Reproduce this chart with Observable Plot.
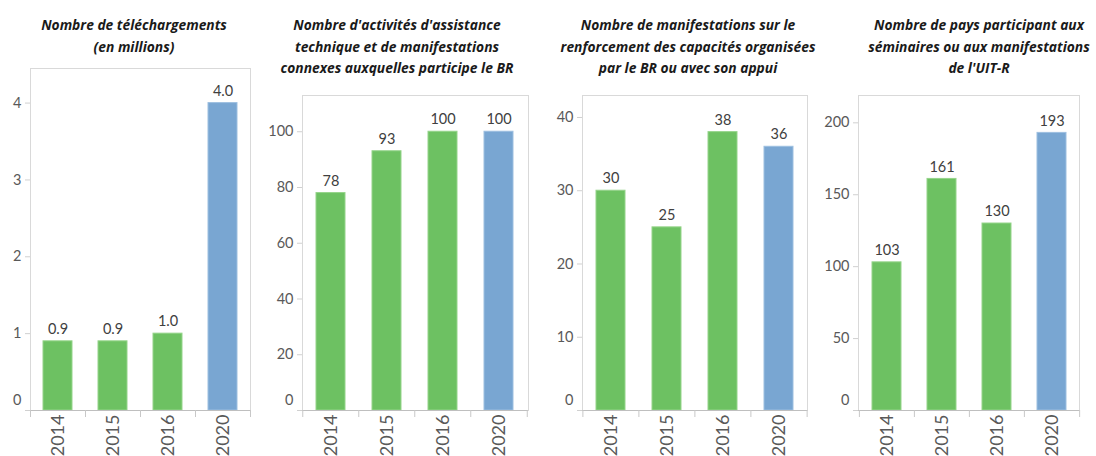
<!DOCTYPE html>
<html>
<head>
<meta charset="utf-8">
<script src="https://cdn.jsdelivr.net/npm/d3@7"></script>
<script src="https://cdn.jsdelivr.net/npm/@observablehq/plot@0.6"></script>
<style>
  html, body { margin: 0; padding: 0; background: #fff; }
  #wrap { position: relative; width: 1096px; height: 456px; overflow: hidden; }
  .panel { position: absolute; top: 0; }
  .title { position: absolute; width: 320px; text-align: center; font-family: "Open Sans", Lato, sans-serif;
           font-style: italic; font-weight: 700; font-size: 13.8px; line-height: 21.5px; color: #1a1a1a; }
</style>
</head>
<body>
<div id="wrap"></div>
<script>
// ---- data ----
const years = ["2014", "2015", "2016", "2020"];
const downloads = [0.9, 0.9, 1.0, 4.0];
const assistance = [78, 93, 100, 100];
const capacity = [30, 25, 38, 36];
const countries = [103, 161, 130, 193];

const titles = [
  ["Nombre de téléchargements", "(en millions)"],
  ["Nombre d'activités d'assistance", "technique et de manifestations", "connexes auxquelles participe le BR"],
  ["Nombre de manifestations sur le", "renforcement des capacités organisées", "par le BR ou avec son appui"],
  ["Nombre de pays participant aux", "séminaires ou aux manifestations", "de l'UIT-R"]
];
const ticks1 = [0, 1, 2, 3, 4];
const ticks2 = [0, 20, 40, 60, 80, 100];
const ticks3 = [0, 10, 20, 30, 40];
const ticks4 = [0, 50, 100, 150, 200];
const yMax = [4.45, 113, 43, 219];
const labelFormat = [d3.format(".1f"), d3.format("d"), d3.format("d"), d3.format("d")];

// ---- layout (pixels) ----
const panels = [
  {values: downloads, ticks: ticks1, left: 0,   width: 274, ml: 30, mr: 24, mt: 68, titleX: 134},
  {values: assistance, ticks: ticks2, left: 254, width: 294, ml: 48, mr: 20, mt: 95, titleX: 397},
  {values: capacity,  ticks: ticks3, left: 528, width: 294, ml: 54, mr: 15, mt: 95, titleX: 688},
  {values: countries, ticks: ticks4, left: 802, width: 294, ml: 56, mr: 17, mt: 95, titleX: 979}
];
const H = 456, MB = 46;
const green = "#6dc162", blue = "#79a6d2";

const wrap = document.getElementById("wrap");

panels.forEach((p, i) => {
  const data = years.map((y, j) => ({year: y, value: p.values[j]}));
  const step = (p.width - p.ml - p.mr) / years.length;
  const chart = Plot.plot({
    width: p.width,
    height: H,
    marginLeft: p.ml,
    marginRight: p.mr,
    marginTop: p.mt,
    marginBottom: MB,
    style: {fontFamily: "Lato, 'Open Sans', sans-serif", fontSize: "14px", background: "transparent"},
    x: {domain: years, paddingInner: 0.48, paddingOuter: 0.24, axis: null, label: null},
    y: {domain: [0, yMax[i]], axis: null, label: null},
    marks: [
      Plot.frame({stroke: "#d9d9d9"}),
      Plot.barY(data, {
        x: "year", y: "value",
        fill: d => d.year === "2020" ? blue : green,
        stroke: d => d.year === "2020" ? "#9dbfe0" : "#95d48a",
        strokeWidth: 1
      }),
      Plot.ruleY([0], {stroke: "#bfbfbf"}),
      Plot.axisY(p.ticks, {
        anchor: "left", label: null, tickSize: 5, tickPadding: 4, stroke: "#d0d0d0",
        fill: "#595959", fontSize: 14.5, tickFormat: d => d === 0 ? "" : String(d)
      }),
      Plot.axisY([0], {anchor: "left", label: null, tickSize: 0, tickPadding: 9, dy: -10,
        fill: "#595959", fontSize: 14.5, tickFormat: d => String(d)}),
      Plot.axisX({anchor: "bottom", label: null, tickSize: 7, dx: -step / 2, stroke: "#c8c8c8", tickFormat: () => ""}),
      Plot.axisX(["2020"], {anchor: "bottom", label: null, tickSize: 7, dx: step / 2, stroke: "#c8c8c8", tickFormat: () => ""}),
      Plot.axisX({anchor: "bottom", label: null, tickSize: 0, tickPadding: 4, tickRotate: -90, fontSize: 18, fill: "#595959"}),
      Plot.text(data, {
        x: "year", y: "value", text: d => labelFormat[i](d.value),
        dy: -12, fill: "#404040", fontSize: 14.5
      })
    ]
  });
  const div = document.createElement("div");
  div.className = "panel";
  div.style.left = p.left + "px";
  div.appendChild(chart);
  wrap.appendChild(div);

  const t = document.createElement("div");
  t.className = "title";
  t.style.left = (p.titleX - 160) + "px";
  t.style.top = "14px";
  t.innerHTML = titles[i].join("<br>");
  wrap.appendChild(t);
});
</script>
</body>
</html>
